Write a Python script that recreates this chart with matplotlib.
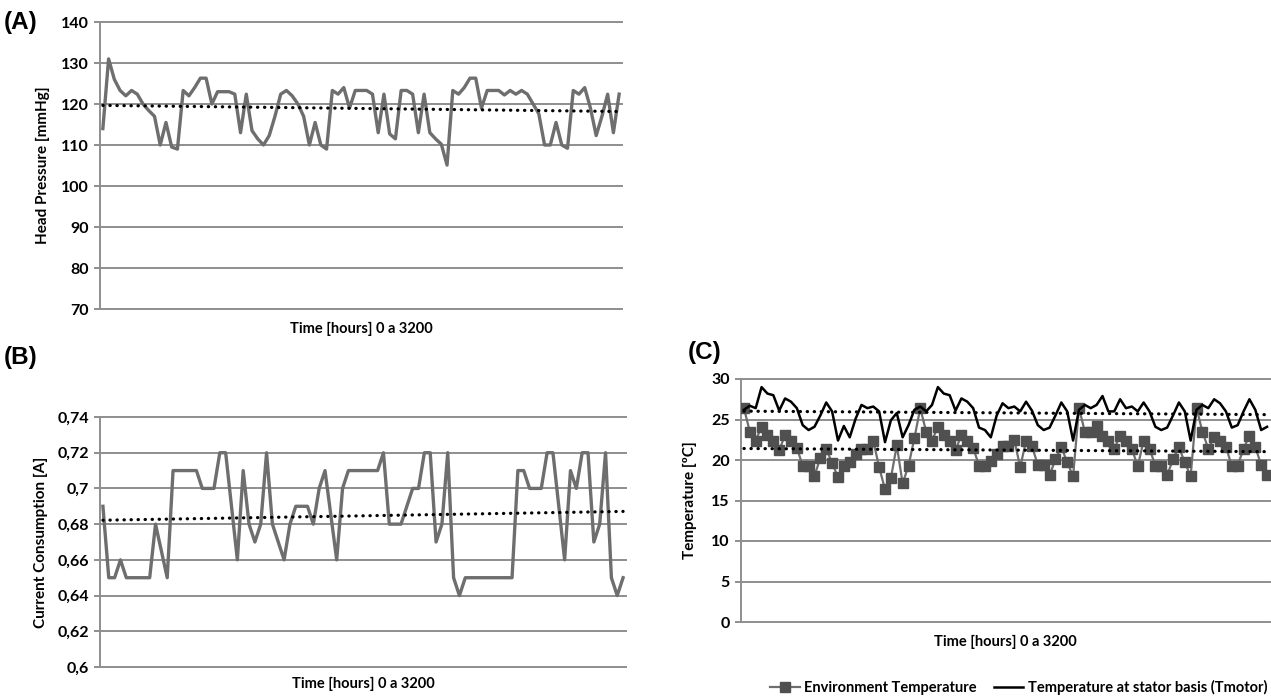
import matplotlib
matplotlib.use('Agg')
import matplotlib.pyplot as plt
import numpy as np

# (A) head pressure, mmHg
pressure = [114, 131, 126, 123.3, 122, 123.3, 122.4, 120, 118.4, 117,
            110, 115.5, 109.5, 109, 123.3, 122, 124, 126.3, 126.3, 120,
            123, 123, 123, 122.4, 113, 122.4, 113.5, 111.5, 110, 112.3,
            117, 122.4, 123.3, 122, 120, 117, 110, 115.5, 110, 109,
            123.3, 122.4, 124, 119, 123.3, 123.3, 123.3, 122.4, 113, 122.4,
            112.7, 111.5, 123.3, 123.3, 122.4, 113, 122.4, 113, 111.5, 110.2,
            105.1, 123.3, 122.4, 124, 126.3, 126.3, 119, 123.3, 123.3, 123.3,
            122.2, 123.3, 122.4, 123.3, 122.4, 120, 117.6, 110, 110, 115.5,
            110, 109.2, 123.3, 122.4, 124, 119, 112.3, 117, 122.4, 113,
            122.4]

# (B) current consumption, A
current = [0.69, 0.65, 0.65, 0.66, 0.65, 0.65, 0.65, 0.65, 0.65, 0.68,
           0.665, 0.65, 0.71, 0.71, 0.71, 0.71, 0.71, 0.70, 0.70, 0.70,
           0.72, 0.72, 0.69, 0.66, 0.71, 0.68, 0.67, 0.68, 0.72, 0.68,
           0.67, 0.66, 0.68, 0.69, 0.69, 0.69, 0.68, 0.70, 0.71, 0.685,
           0.66, 0.70, 0.71, 0.71, 0.71, 0.71, 0.71, 0.71, 0.72, 0.68,
           0.68, 0.68, 0.69, 0.70, 0.70, 0.72, 0.72, 0.67, 0.68, 0.72,
           0.65, 0.64, 0.65, 0.65, 0.65, 0.65, 0.65, 0.65, 0.65, 0.65,
           0.65, 0.71, 0.71, 0.70, 0.70, 0.70, 0.72, 0.72, 0.69, 0.66,
           0.71, 0.70, 0.72, 0.72, 0.67, 0.68, 0.72, 0.65, 0.64, 0.65]

# (C) temperatures, ºC
env_temp = [26.4, 23.5, 22.4, 24.1, 23.1, 22.4, 21.2, 23.1, 22.4, 21.5,
            19.3, 19.3, 18.0, 20.3, 21.4, 19.6, 17.9, 19.3, 19.7, 20.7,
            21.4, 21.4, 22.4, 19.1, 16.4, 17.75, 21.8, 17.1, 19.3, 22.7,
            26.4, 23.5, 22.4, 24.1, 23.1, 22.4, 21.2, 23.1, 22.4, 21.5,
            19.3, 19.3, 19.9, 20.75, 21.7, 21.7, 22.5, 19.1, 22.4, 21.7,
            19.4, 19.4, 18.1, 20.1, 21.6, 19.7, 18.0, 26.4, 23.5, 23.5,
            24.2, 23.0, 22.4, 21.4, 23.0, 22.4, 21.4, 19.2, 22.4, 21.4,
            19.3, 19.3, 18.1, 20.1, 21.6, 19.7, 18.0, 26.4, 23.5, 21.4,
            22.8, 22.4, 21.6, 19.3, 19.3, 21.4, 23.0, 21.6, 19.4, 18.1]
motor_temp = [26.2, 26.7, 26.4, 29.0, 28.2, 28.0, 26.1, 27.6, 27.2, 26.4,
              24.3, 23.7, 24.1, 25.5, 27.1, 26.0, 22.4, 24.2, 22.8, 25.1,
              26.8, 26.4, 26.6, 26.0, 22.2, 24.9, 25.8, 22.8, 24.3, 26.2,
              26.6, 26.0, 26.8, 29.0, 28.2, 28.0, 26.1, 27.6, 27.2, 26.4,
              24.0, 23.7, 22.8, 25.5, 27.0, 26.4, 26.6, 26.0, 27.2, 26.1,
              24.3, 23.7, 24.0, 25.5, 27.1, 26.0, 22.4, 26.2, 26.8, 26.4,
              26.8, 27.9, 26.0, 26.0, 27.5, 26.4, 26.6, 26.0, 27.1, 26.0,
              24.1, 23.7, 24.0, 25.5, 27.1, 26.0, 22.4, 26.2, 26.8, 26.4,
              27.5, 27.0, 26.0, 24.0, 24.3, 26.0, 27.5, 26.2, 23.7, 24.1]

pressure_ticks = [70, 80, 90, 100, 110, 120, 130, 140]
current_ticks = [0.60, 0.62, 0.64, 0.66, 0.68, 0.70, 0.72, 0.74]
current_labels = ['0,6', '0,62', '0,64', '0,66', '0,68', '0,7', '0,72', '0,74']
temp_ticks = [0, 5, 10, 15, 20, 25, 30]

xlabel = 'Time [hours] 0 a 3200'

plt.rcParams['font.family'] = ['Lato', 'DejaVu Sans']

W, H = 1271, 699
fig = plt.figure(figsize=(W / 100, H / 100), dpi=100)

grid_c = '#8e8e8e'
line_c = '#6e6e6e'


def box(l, t, r, b):
    return [l / W, 1 - b / H, (r - l) / W, (b - t) / H]


def trend(y):
    x = np.arange(len(y))
    k, b = np.polyfit(x, y, 1)
    return x, k * x + b


def style(ax, n, ticks, labels=None):
    ax.set_xlim(-0.5, n - 0.5)
    ax.set_ylim(ticks[0], ticks[-1])
    ax.set_yticks(ticks)
    if labels is not None:
        ax.set_yticklabels(labels)
    ax.set_xticks([])
    for s in ['top', 'right']:
        ax.spines[s].set_visible(False)
    for s in ['left', 'bottom']:
        ax.spines[s].set_color(grid_c)
        ax.spines[s].set_linewidth(1.4)
    for t in ticks[1:]:
        ax.axhline(t, color=grid_c, lw=1.4, zorder=0, clip_on=False)
    ax.tick_params(axis='y', length=4, width=1.4, color=grid_c,
                   labelsize=11.5, pad=4)
    for lab in ax.get_yticklabels():
        lab.set_fontweight('bold')


dots = dict(color='black', lw=2.3, linestyle=(0, (0.1, 2.1)),
            dash_capstyle='round', zorder=4)

# (A)
axA = fig.add_axes(box(100, 22, 622, 309))
style(axA, len(pressure), pressure_ticks)
axA.plot(np.arange(len(pressure)), pressure, color=line_c, lw=2.4, zorder=3)
axA.plot(*trend(pressure), **dots)
axA.set_ylabel('Head Pressure [mmHg]', fontsize=11, fontweight='bold', labelpad=8)
axA.set_xlabel(xlabel, fontsize=10.5, fontweight='bold', labelpad=9)

# (B)
axB = fig.add_axes(box(100, 417, 626, 667))
style(axB, len(current), current_ticks, current_labels)
axB.plot(np.arange(len(current)), current, color=line_c, lw=2.4, zorder=3)
axB.plot(*trend(current), **dots)
axB.set_ylabel('Current Consumption [A]', fontsize=11, fontweight='bold', labelpad=7)
axB.set_xlabel(xlabel, fontsize=10.5, fontweight='bold', labelpad=7)

# (C)
axC = fig.add_axes(box(741, 379, 1270, 622))
style(axC, len(env_temp), temp_ticks)
x = np.arange(len(env_temp))
axC.plot(x, env_temp, color=line_c, lw=1.6, marker='s', markersize=6.5,
         markerfacecolor='#505050', markeredgecolor='#505050', zorder=3,
         label='Environment Temperature')
axC.plot(x, motor_temp, color='black', lw=1.8, zorder=3,
         label='Temperature at stator basis (Tmotor)')
axC.plot(*trend(env_temp), **dots)
axC.plot(*trend(motor_temp), **dots)
axC.set_ylabel('Temperature [ºC]', fontsize=11, fontweight='bold', labelpad=10)
axC.set_xlabel(xlabel, fontsize=10.5, fontweight='bold', labelpad=9)
axC.legend(loc='center right', bbox_to_anchor=(1.0, -0.27), ncol=2,
           frameon=False, prop={'weight': 'bold', 'size': 10.5},
           handlelength=2.0, columnspacing=1.2, handletextpad=0.3,
           borderaxespad=0, borderpad=0.2)

for txt, px, py in [('(A)', 4, 22), ('(B)', 4, 358), ('(C)', 688, 352)]:
    fig.text(px / W, 1 - py / H, txt, fontsize=17.5, fontweight='bold',
             family='Liberation Sans', va='center', ha='left')

fig.savefig('out.png', dpi=100)
